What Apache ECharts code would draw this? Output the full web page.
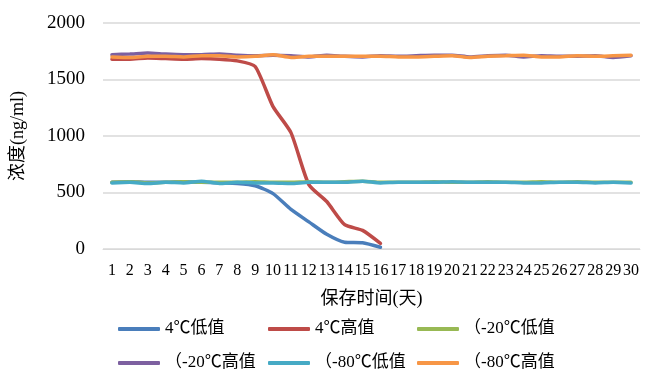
<!DOCTYPE html>
<html>
<head>
<meta charset="utf-8">
<script src="https://cdn.jsdelivr.net/npm/echarts@6/dist/echarts.min.js"></script>
<style>
  html, body { margin: 0; padding: 0; background: #fff; }
  #main { width: 646px; height: 372px; }
</style>
</head>
<body>
<div id="main"></div>
<script>
// 横轴：保存时间(天)
var days = []
for (var d = 1; d <= 30; d++) days.push(String(d))

// 各组浓度数据 (ng/ml)
var low4 = [590, 595, 590, 590, 595, 590, 585, 580, 560, 490, 350, 240, 130, 60, 55, 15,
  null, null, null, null, null, null, null, null, null, null, null, null, null, null]
var high4 = [1680, 1680, 1690, 1685, 1680, 1685, 1680, 1665, 1615, 1260, 1030, 570, 420, 215, 165, 50,
  null, null, null, null, null, null, null, null, null, null, null, null, null, null]
var low20 = [590, 595, 585, 590, 595, 590, 590, 590, 595, 590, 590, 595, 590, 595, 600,
  590, 590, 590, 595, 590, 590, 595, 590, 590, 595, 590, 595, 590, 590, 590]
var high20 = [1720, 1725, 1735, 1725, 1720, 1720, 1725, 1715, 1710, 1715, 1710, 1700, 1715, 1705, 1700,
  1710, 1705, 1710, 1715, 1715, 1700, 1710, 1715, 1700, 1710, 1705, 1705, 1710, 1695, 1710]
var low80 = [585, 590, 580, 590, 585, 600, 580, 590, 585, 585, 580, 590, 590, 590, 600,
  585, 590, 590, 590, 595, 590, 590, 590, 585, 585, 590, 590, 585, 590, 585]
var high80 = [1700, 1695, 1705, 1705, 1700, 1710, 1710, 1700, 1705, 1720, 1695, 1705, 1705, 1705, 1705,
  1705, 1700, 1700, 1705, 1710, 1695, 1705, 1710, 1715, 1700, 1700, 1710, 1705, 1710, 1715]

var names = ['4℃低值', '4℃高值', '（-20℃低值', '（-20℃高值', '（-80℃低值', '（-80℃高值']
var colors = ['#4a7ebb', '#be4b48', '#98b954', '#7d60a0', '#46aac5', '#f79646']
var values = [low4, high4, low20, high20, low80, high80]

var font = '"Liberation Serif", "Noto Sans CJK SC", serif'

// 图例按三列排列
function legendCol(left, data) {
  return {
    orient: 'vertical',
    left: left,
    top: 320,
    height: 52,
    padding: 0,
    itemWidth: 42,
    itemHeight: 4,
    itemGap: 16,
    icon: 'roundRect',
    textStyle: { fontFamily: font, fontSize: 17, color: '#000', lineHeight: 18 },
    data: data,
  }
}

var myChart = echarts.init(document.getElementById('main'))
var option = {
  animation: false,
  color: colors,
  grid: { left: 103, right: 6, top: 23, bottom: 123 },
  legend: [
    legendCol(118, [names[0], names[3]]),
    legendCol(268, [names[1], names[4]]),
    legendCol(417, [names[2], names[5]]),
  ],
  xAxis: {
    type: 'category',
    data: days,
    name: '保存时间(天)',
    nameLocation: 'middle',
    nameGap: 41,
    nameTextStyle: { fontFamily: font, fontSize: 18, color: '#000' },
    axisLine: { show: true, lineStyle: { color: '#d9d9d9' } },
    axisTick: { show: false },
    axisLabel: { interval: 0, fontFamily: font, fontSize: 16, color: '#000', margin: 14 },
  },
  yAxis: {
    type: 'value',
    min: 0,
    max: 2000,
    interval: 500,
    name: '浓度(ng/ml)',
    nameLocation: 'middle',
    nameGap: 76,
    nameTextStyle: { fontFamily: font, fontSize: 18, color: '#000' },
    axisLine: { show: false },
    axisTick: { show: false },
    axisLabel: {
      fontFamily: font, fontSize: 19, color: '#000', margin: 18,
      formatter: function (v) { return String(v) },
    },
    splitLine: { lineStyle: { color: '#d9d9d9', width: 1.5 } },
  },
  series: values.map(function (v, i) {
    return {
      name: names[i],
      type: 'line',
      data: v,
      showSymbol: false,
      symbol: 'none',
      smooth: 0.2,
      lineStyle: { width: 3.5, color: colors[i], cap: 'round' },
    }
  }),
}
myChart.setOption(option)
</script>
</body>
</html>
